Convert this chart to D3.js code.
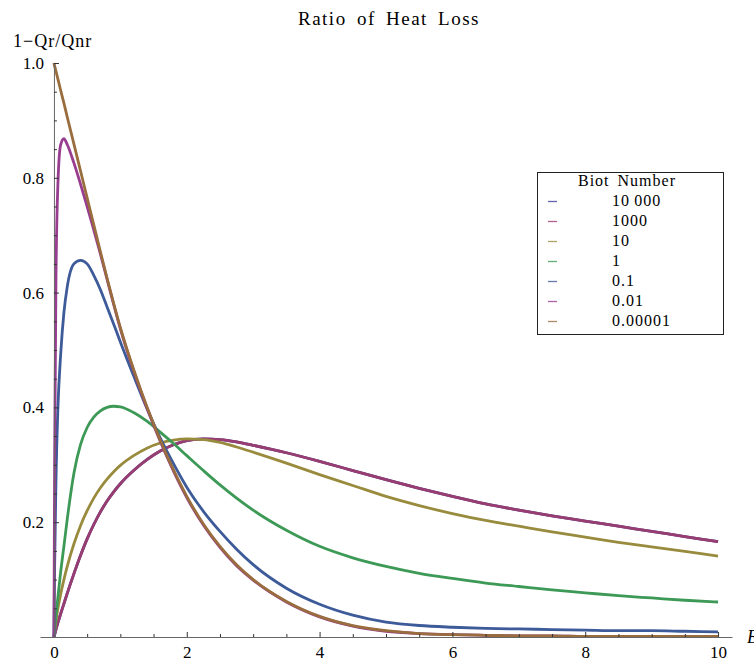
<!DOCTYPE html>
<html>
<head>
<meta charset="utf-8">
<script src="https://cdn.jsdelivr.net/npm/d3@7"></script>
<style>
  body { margin: 0; background: #fff; }
  svg { display: block; }
  text { font-family: "Liberation Serif", "Times New Roman", serif; fill: #000; }
</style>
</head>
<body>
<script>
// sample positions along the x axis (shared by every series)
const xGrid = [0, 0.01, 0.03, 0.06, 0.1, 0.15, 0.2, 0.3, 0.4, 0.5, 0.6, 0.7, 0.8, 0.9, 1.0,
  1.2, 1.4, 1.6, 1.8, 2.0, 2.25, 2.5, 2.75, 3.0, 3.5, 4.0, 4.5, 5.0, 5.5, 6.0, 6.5, 7.0,
  7.5, 8.0, 8.5, 9.0, 9.5, 10]

// 1 - Qr/Qnr, one array per Biot number
const bi10000 = [0, 0.004, 0.013, 0.025, 0.04, 0.058, 0.076, 0.11, 0.142, 0.171, 0.196, 0.218, 0.237, 0.253, 0.267,
  0.29, 0.309, 0.324, 0.335, 0.342, 0.345, 0.344, 0.34, 0.334, 0.321, 0.306, 0.29, 0.274, 0.259, 0.245, 0.232, 0.221,
  0.211, 0.202, 0.193, 0.184, 0.175, 0.166]
const bi1000 = [0, 0.004, 0.013, 0.025, 0.04, 0.058, 0.076, 0.11, 0.142, 0.171, 0.196, 0.218, 0.237, 0.253, 0.267,
  0.29, 0.309, 0.324, 0.335, 0.342, 0.345, 0.344, 0.34, 0.334, 0.321, 0.306, 0.29, 0.274, 0.259, 0.245, 0.232, 0.221,
  0.211, 0.202, 0.193, 0.184, 0.175, 0.166]
const bi10 = [0, 0.01, 0.028, 0.05, 0.074, 0.1, 0.123, 0.162, 0.194, 0.22, 0.242, 0.26, 0.275, 0.288, 0.299,
  0.316, 0.329, 0.338, 0.343, 0.345, 0.344, 0.339, 0.331, 0.322, 0.303, 0.283, 0.264, 0.245, 0.229, 0.215, 0.203, 0.193,
  0.183, 0.174, 0.165, 0.157, 0.149, 0.141]
const bi1 = [0, 0.012, 0.036, 0.07, 0.112, 0.158, 0.205, 0.285, 0.335, 0.365, 0.383, 0.394, 0.4, 0.402, 0.401,
  0.391, 0.376, 0.357, 0.337, 0.316, 0.29, 0.265, 0.242, 0.221, 0.186, 0.158, 0.138, 0.123, 0.111, 0.102, 0.094, 0.088,
  0.082, 0.077, 0.072, 0.068, 0.064, 0.061]
const bi01 = [0, 0.12, 0.27, 0.4, 0.49, 0.565, 0.61, 0.65, 0.656, 0.65, 0.63, 0.605, 0.575, 0.545, 0.514,
  0.455, 0.398, 0.347, 0.302, 0.261, 0.219, 0.184, 0.153, 0.126, 0.085, 0.057, 0.038, 0.026, 0.02, 0.017, 0.015, 0.014,
  0.013, 0.012, 0.011, 0.011, 0.01, 0.009]
const bi001 = [0, 0.3, 0.62, 0.79, 0.857, 0.868, 0.858, 0.826, 0.789, 0.75, 0.709, 0.667, 0.623, 0.579, 0.537,
  0.464, 0.399, 0.341, 0.289, 0.243, 0.195, 0.156, 0.124, 0.099, 0.061, 0.035, 0.019, 0.01, 0.006, 0.004, 0.003, 0.002,
  0.002, 0.001, 0.001, 0.001, 0.001, 0.001]
const bi000001 = [1.0, 0.995, 0.986, 0.972, 0.953, 0.93, 0.906, 0.859, 0.812, 0.765, 0.718, 0.671, 0.625, 0.581, 0.539,
  0.466, 0.401, 0.343, 0.291, 0.245, 0.197, 0.158, 0.126, 0.1, 0.062, 0.036, 0.02, 0.011, 0.006, 0.004, 0.003, 0.002,
  0.002, 0.001, 0.001, 0.001, 0.001, 0.001]

const biotLabels = ['10\u2009000', '1000', '10', '1', '0.1', '0.01', '0.00001']
const biotSeries = [bi10000, bi1000, bi10, bi1, bi01, bi001, bi000001]
const colors = ['#3f3d99', '#993d71', '#998b3d', '#3d9956', '#3d5a99', '#993d90', '#996d3d']

const xMajor = [0, 2, 4, 6, 8, 10]
const xMinor = d3.range(0.5, 10.01, 0.5).filter(v => v % 2 !== 0)
const yMajor = [0.2, 0.4, 0.6, 0.8, 1.0]
const yMinor = d3.range(0.05, 1.001, 0.05).filter(v => Math.abs(v * 5 - Math.round(v * 5)) > 1e-6)

const w = 754
const h = 661

const xScale = d3.scaleLinear().domain([-0.21, 10.21]).range([40, 732])
const yScale = d3.scaleLinear().domain([0, 1]).range([637, 63])

const svg = d3.select('body').append('svg')
  .attr('width', w)
  .attr('height', h)

// curves
const line = d3.line()
  .x((d, i) => xScale(xGrid[i]))
  .y(d => yScale(d))
  .curve(d3.curveMonotoneX)

svg.append('g')
  .selectAll('path')
  .data(biotSeries)
  .enter()
  .append('path')
  .attr('d', line)
  .attr('fill', 'none')
  .attr('stroke', (d, i) => colors[i])
  .attr('stroke-width', 2.8)
  .attr('stroke-linejoin', 'round')

// axes
svg.append('g')
  .attr('transform', 'translate(0, 637)')
  .call(d3.axisBottom(xScale).tickValues(xMajor).tickSizeInner(-5).tickSizeOuter(0)
    .tickPadding(9).tickFormat(d3.format('d')))
svg.append('g')
  .attr('transform', 'translate(0, 637)')
  .call(d3.axisBottom(xScale).tickValues(xMinor).tickSize(-3).tickFormat(''))
  .call(g => g.select('.domain').remove())

svg.append('g')
  .attr('transform', `translate(${xScale(0)}, 0)`)
  .call(d3.axisLeft(yScale).tickValues(yMajor).tickSizeInner(-5).tickSizeOuter(0)
    .tickPadding(10).tickFormat(d3.format('.1f')))
svg.append('g')
  .attr('transform', `translate(${xScale(0)}, 0)`)
  .call(d3.axisLeft(yScale).tickValues(yMinor).tickSize(-3).tickFormat(''))
  .call(g => g.select('.domain').remove())

svg.selectAll('.domain').attr('stroke', '#666')
svg.selectAll('.tick line').attr('stroke', '#333')
svg.selectAll('.tick text').attr('font-size', 17)

// titles
svg.append('text')
  .attr('x', 389)
  .attr('y', 25)
  .attr('text-anchor', 'middle')
  .attr('font-size', 19)
  .style('letter-spacing', '1.5px')
  .style('word-spacing', '4px')
  .text('Ratio of Heat Loss')

svg.append('text')
  .attr('x', 13)
  .attr('y', 47)
  .attr('font-size', 18)
  .style('letter-spacing', '1px')
  .text('1\u2212Qr/Qnr')

svg.append('text')
  .attr('x', 747)
  .attr('y', 643)
  .attr('font-size', 18)
  .attr('font-style', 'italic')
  .text('Bi')

// legend
const legend = svg.append('g')
legend.append('rect')
  .attr('x', 537.5)
  .attr('y', 172.5)
  .attr('width', 186)
  .attr('height', 162)
  .attr('fill', '#fff')
  .attr('stroke', '#222')

legend.append('text')
  .attr('x', 627)
  .attr('y', 186)
  .attr('text-anchor', 'middle')
  .attr('font-size', 16)
  .style('letter-spacing', '1px')
  .style('word-spacing', '3px')
  .text('Biot Number')

const rows = legend.selectAll('g.row')
  .data(biotLabels)
  .enter()
  .append('g')
  .attr('class', 'row')
  .attr('transform', (d, i) => `translate(0, ${i * 20})`)

rows.append('line')
  .attr('x1', 548)
  .attr('x2', 557)
  .attr('y1', 201.5)
  .attr('y2', 201.5)
  .attr('stroke', (d, i) => colors[i])
  .attr('stroke-width', 1.3)
  .attr('opacity', 0.8)

rows.append('text')
  .attr('x', 612)
  .attr('y', 206)
  .attr('font-size', 16)
  .style('letter-spacing', '1px')
  .text(d => d)
</script>
</body>
</html>
